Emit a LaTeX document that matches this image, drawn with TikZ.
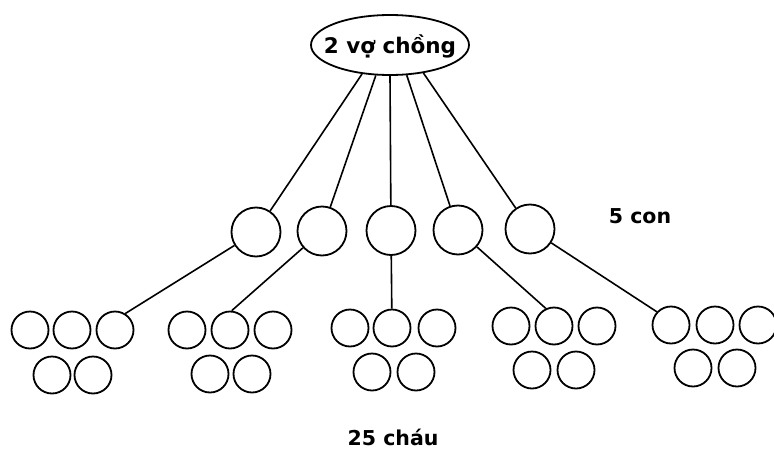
\documentclass[tikz,border=0pt]{standalone}
\usepackage{fontspec}
\setmainfont{DejaVu Sans}
\usetikzlibrary{shapes.geometric}
\begin{document}
\begin{tikzpicture}[x=1pt,y=-1pt,
  link/.style={line width=1.6pt,black},
  big/.style={circle,draw,line width=1.8pt,minimum size=49pt,inner sep=0pt},
  small/.style={circle,draw,line width=1.8pt,minimum size=37pt,inner sep=0pt},
  lbl/.style={font=\bfseries\fontsize{20.5}{24}\selectfont,inner sep=0pt,anchor=base}]
\useasboundingbox (0,0) rectangle (774,450);
% top ellipse
\node[ellipse,draw,line width=1.8pt,minimum width=158pt,minimum height=60pt,inner sep=0pt] (top) at (390,45) {};
\node[lbl,font=\bfseries\fontsize{21.5}{25}\selectfont] (toptxt) at (390,53.5) {2 vợ chồng};
% children
\node[big] (c1) at (256,232) {};
\node[big] (c2) at (322,231) {};
\node[big] (c3) at (391,230.5) {};
\node[big] (c4) at (458,230) {};
\node[big] (c5) at (530,229) {};
% grandchildren
\node[small] (g1a) at (30,330) {};
\node[small] (g1b) at (72,330) {};
\node[small] (g1c) at (115,330) {};
\node[small] (g1d) at (52,375) {};
\node[small] (g1e) at (93,375) {};
\node[small] (g2a) at (187,330) {};
\node[small] (g2b) at (230,330) {};
\node[small] (g2c) at (273,330) {};
\node[small] (g2d) at (210,374) {};
\node[small] (g2e) at (252,374) {};
\node[small] (g3a) at (350,328) {};
\node[small] (g3b) at (392,328) {};
\node[small] (g3c) at (437,328) {};
\node[small] (g3d) at (372,372) {};
\node[small] (g3e) at (416,372) {};
\node[small] (g4a) at (511,326) {};
\node[small] (g4b) at (554,326) {};
\node[small] (g4c) at (597,326) {};
\node[small] (g4d) at (532,370) {};
\node[small] (g4e) at (576,370) {};
\node[small] (g5a) at (671,325) {};
\node[small] (g5b) at (715,325) {};
\node[small] (g5c) at (758,325) {};
\node[small] (g5d) at (693,368) {};
\node[small] (g5e) at (737,368) {};
% connectors
\draw[link] (top.226) -- (c1);
\draw[link] (top.245.5) -- (c2);
\draw[link] (top.270) -- (c3);
\draw[link] (top.299.5) -- (c4);
\draw[link] (top.320) -- (c5);
\draw[link] (c1) -- (g1c.58);
\draw[link] (c2) -- (g2b.85);
\draw[link] (c3) -- (g3b);
\draw[link] (c4) -- (g4b.115);
\draw[link] (c5) -- (g5a.137);
% labels
\node[lbl] (con) at (640,223) {5 con};
\node[lbl] (chau) at (393,445) {25 cháu};
\end{tikzpicture}
\end{document}
